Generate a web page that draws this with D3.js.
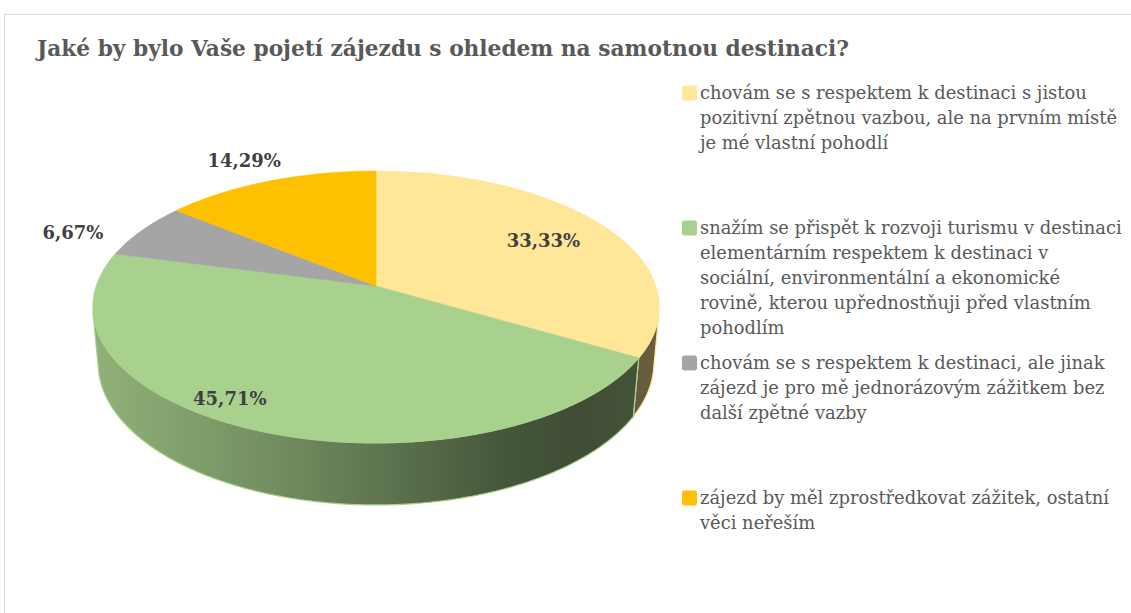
<!DOCTYPE html>
<html lang="cs">
<head>
  <meta charset="UTF-8">
  <title>Pojetí zájezdu</title>
  <style>
    body { margin: 0; background: #fff; }
    svg { display: block; }
  </style>
</head>
<body>
<svg width="1131" height="613"></svg>

<script src="https://cdn.jsdelivr.net/npm/d3@7/dist/d3.min.js"></script>
<script>
  var title = "Jaké by bylo Vaše pojetí zájezdu s ohledem na samotnou destinaci?";
  // legend texts, already broken into lines as in the original
  var categories = [
    ["chovám se s respektem k destinaci s jistou", "pozitivní zpětnou vazbou, ale na prvním místě", "je mé vlastní pohodlí"],
    ["snažím se přispět k rozvoji turismu v destinaci", "elementárním respektem k destinaci v", "sociální, environmentální a ekonomické", "rovině, kterou upřednostňuji před vlastním", "pohodlím"],
    ["chovám se s respektem k destinaci, ale jinak", "zájezd je pro mě jednorázovým zážitkem bez", "další zpětné vazby"],
    ["zájezd by měl zprostředkovat zážitek, ostatní", "věci neřeším"]
  ];
  var values = [33.33, 45.71, 6.67, 14.29];
  var colors = ["#ffe699", "#a9d18e", "#a5a5a5", "#ffc000"];

  // label placement (radius in pie radii, angle shift in degrees)
  var labelPos = [{r: 0.73, da: 0}, {r: 0.88, da: 9.4}, {r: 1.23, da: -6.3}, {r: 1.24, da: -0.7}];

  var svg = d3.select('svg');

  // chart border
  svg.append('rect').attr('x', 4.5).attr('y', 14.5).attr('width', 1200).attr('height', 700)
    .attr('fill', '#fff').attr('stroke', '#d9d9d9').attr('stroke-width', 1);

  // title
  var t = svg.append('text').attr('x', 37).attr('y', 56)
    .attr('font-family', 'DejaVu Serif').attr('font-weight', 'bold').attr('font-size', 20)
    .attr('fill', '#595959').text(title);
  t.attr('font-size', 20 * 812 / t.node().getComputedTextLength());

  // 3D perspective projection of the pie
  var cx = 376, cy = 286, f = 1597, D = 5.706, depth = 0.23;
  var tilt = 28.3 * Math.PI / 180, sA = Math.sin(tilt), cA = Math.cos(tilt);
  function project(theta, r, h) {
    var u = r * Math.sin(theta), v = r * Math.cos(theta);
    var yc = v * sA + h * cA, zc = D + v * cA - h * sA;
    return [cx + f * u / zc, cy - f * yc / zc];
  }
  function rim(a0, a1, h) {
    var n = Math.max(2, Math.ceil((a1 - a0) / (Math.PI / 360)));
    return d3.range(n + 1).map(function (i) { return project(a0 + (a1 - a0) * i / n, 1, h); });
  }

  var arcs = d3.pie().sort(null).value(function (d) { return d; })(values);
  var line = d3.line();

  // gradients for the side walls (darker to the right)
  var defs = svg.append('defs');
  colors.forEach(function (c, i) {
    var g = defs.append('linearGradient').attr('id', 'wall' + i)
      .attr('gradientUnits', 'userSpaceOnUse').attr('x1', 92).attr('x2', 661).attr('y1', 0).attr('y2', 0);
    [[0, 0.85], [0.35, 0.66], [0.73, 0.41], [0.85, 0.37], [1, 0.41]].forEach(function (s) {
      var col = d3.rgb(c);
      g.append('stop').attr('offset', s[0])
        .attr('stop-color', d3.rgb(col.r * s[1], col.g * s[1], col.b * s[1]).formatHex());
    });
  });

  // visible part of the outer wall
  var vis = Math.acos(-1 / (D * cA));
  var walls = svg.append('g');
  arcs.forEach(function (a, i) {
    var a0 = Math.max(a.startAngle, vis), a1 = Math.min(a.endAngle, 2 * Math.PI - vis);
    if (a1 <= a0) return;
    var pts = rim(a0, a1, 0).concat(rim(a0, a1, -depth).reverse());
    walls.append('path').attr('d', line(pts) + 'Z')
      .attr('fill', 'url(#wall' + i + ')')
      .attr('stroke', colors[i]).attr('stroke-width', 1.2).attr('stroke-linejoin', 'round');
  });

  // top faces
  var tops = svg.append('g');
  arcs.forEach(function (a, i) {
    var pts = [project(0, 0, 0)].concat(rim(a.startAngle, a.endAngle, 0));
    tops.append('path').attr('d', line(pts) + 'Z')
      .attr('fill', colors[i]).attr('stroke', colors[i]).attr('stroke-width', 0.6);
  });

  // data labels
  var fmt = d3.format('.2f');
  svg.append('g').selectAll('text').data(arcs).enter().append('text')
    .attr('transform', function (a, i) {
      var mid = (a.startAngle + a.endAngle) / 2 + labelPos[i].da * Math.PI / 180;
      var p = project(mid, labelPos[i].r, 0);
      return 'translate(' + p[0] + ',' + p[1] + ')';
    })
    .attr('text-anchor', 'middle').attr('dy', '0.36em')
    .attr('font-family', 'DejaVu Serif').attr('font-weight', 'bold').attr('font-size', 18)
    .attr('fill', '#404040')
    .text(function (a) { return fmt(a.data).replace('.', ',') + '%'; });

  // legend
  var ly = d3.scalePoint().domain(d3.range(categories.length)).range([93, 498]);
  var lineH = 25;
  var legend = svg.append('g');
  var items = legend.selectAll('g').data(categories).enter().append('g')
    .attr('transform', function (d, i) { return 'translate(0,' + ly(i) + ')'; });
  items.append('rect').attr('x', 682).attr('y', -7.5).attr('width', 15).attr('height', 15)
    .attr('rx', 2.5).attr('fill', function (d, i) { return colors[i]; });
  var txt = items.append('text').attr('x', 700)
    .attr('font-family', 'DejaVu Serif').attr('font-size', 16).attr('fill', '#595959');
  txt.selectAll('tspan').data(function (d) { return d; }).enter().append('tspan')
    .attr('x', 700).attr('y', function (d, j) { return j * lineH; }).attr('dy', '0.36em')
    .text(function (d) { return d; });
  var ref = txt.filter(function (d, i) { return i === 1; }).select('tspan').node().getComputedTextLength();
  txt.attr('font-size', 16 * 422 / ref);
</script>
</body>
</html>
